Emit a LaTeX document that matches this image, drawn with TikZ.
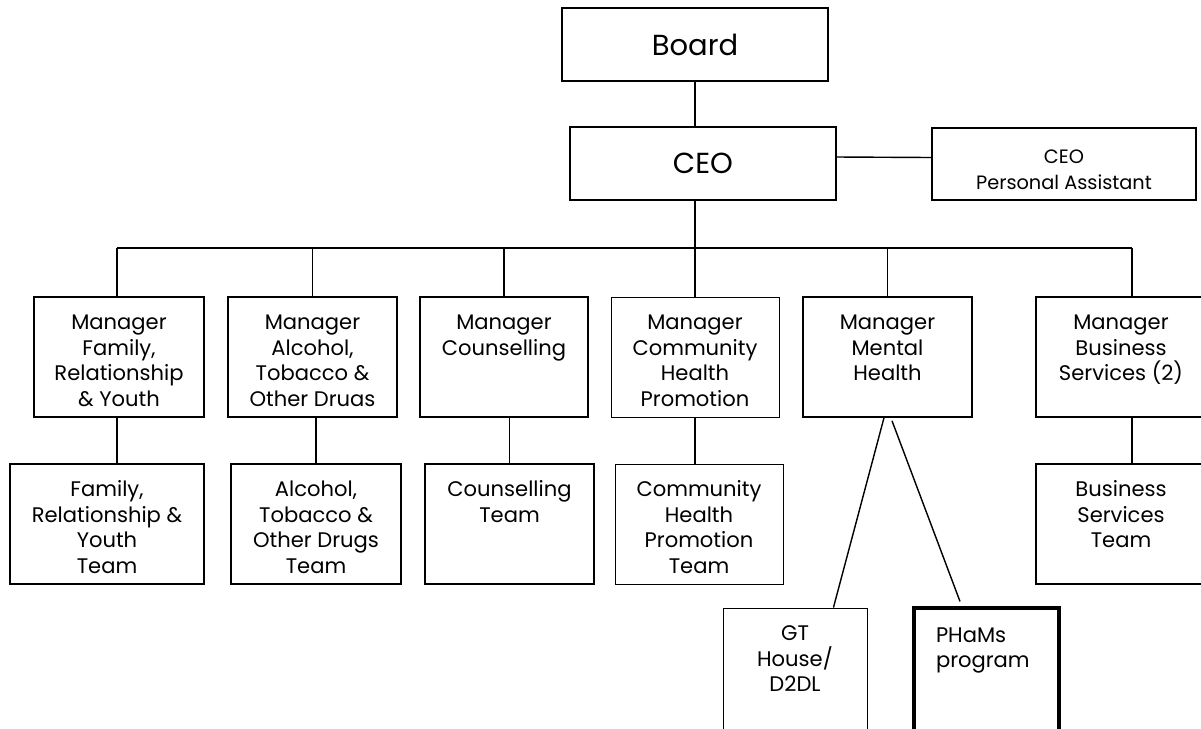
\documentclass[tikz,border=0pt]{standalone}
\usepackage{fontspec}
\setmainfont{Poppins}
\newcommand{\toptext}[3]{\parbox[c][#2][t]{#1}{\centering\rule{0pt}{0.65cm}#3}}
\tikzset{
  unit/.style={draw, line width=0.9pt, inner sep=0pt, font=\fontsize{12}{14.6}\selectfont},
  thinunit/.style={unit, line width=0.5pt},
  phamsunit/.style={unit, line width=1.8pt},
  headunit/.style={draw, line width=1.2pt, inner sep=0pt, minimum width=5.32cm, minimum height=1.46cm, font=\fontsize{16.5}{19}\selectfont},
  pausunit/.style={draw, line width=0.9pt, inner sep=0pt, minimum width=5.28cm, minimum height=1.44cm, align=center, font=\fontsize{11}{14.7}\selectfont},
  link/.style={line width=0.8pt}
}
\begin{document}
\begin{tikzpicture}[x=0.02cm, y=-0.02cm]
  \path[use as bounding box] (0,0) rectangle (1201,728);
  \clip (0,0) rectangle (1201,728);
  % top
  \node[headunit] (board) at (695,44.5) {Board};
  \node[headunit] (ceo) at (703,163.5) {CEO};
  \node[pausunit] (pa) at (1064,164) {\rule{0pt}{0.5cm}CEO\\Personal Assistant};
  % managers
  \node[unit] (m1) at (119,357) {\toptext{3.4cm}{2.4cm}{Manager\\Family,\\Relationship\\\& Youth}};
  \node[unit] (m2) at (312.5,357) {\toptext{3.38cm}{2.4cm}{Manager\\Alcohol,\\Tobacco \&\\Other Druas}};
  \node[unit] (m3) at (504,357) {\toptext{3.36cm}{2.4cm}{Manager\\Counselling}};
  \node[thinunit] (m4) at (695,357) {\toptext{3.36cm}{2.4cm}{Manager\\Community\\Health\\Promotion}};
  \node[unit] (m5) at (887.5,357) {\toptext{3.38cm}{2.4cm}{Manager\\Mental\\Health}};
  \node[unit] (m6) at (1121,357) {\toptext{3.4cm}{2.4cm}{Manager\\Business\\Services (2)}};
  % teams
  \node[unit] (t1) at (107,524) {\toptext{3.88cm}{2.4cm}{Family,\\Relationship \&\\Youth\\Team}};
  \node[unit] (t2) at (316,524) {\toptext{3.4cm}{2.4cm}{Alcohol,\\Tobacco \&\\Other Drugs\\Team}};
  \node[unit] (t3) at (509.5,524) {\toptext{3.38cm}{2.4cm}{Counselling\\Team}};
  \node[thinunit] (t4) at (699,524) {\toptext{3.36cm}{2.4cm}{Community\\Health\\Promotion\\Team}};
  \node[unit] (t6) at (1121,524) {\toptext{3.4cm}{2.4cm}{Business\\Services\\Team}};
  \node[thinunit] (gt) at (795,678) {\toptext{2.88cm}{2.8cm}{GT\\House/\\D2DL}};
  \node[phamsunit] (ph) at (986.5,678) {\parbox[c][2.8cm][t]{2.9cm}{\raggedright\leftskip=0.44cm\rule{0pt}{0.68cm}PHaMs\\program}};
  % connectors
  \coordinate (busL) at (117,248);
  \coordinate (busR) at (1132,248);
  \draw[link] (board.south -| m4.north) -- (ceo.north -| m4.north);
  \draw[link] ([yshift=0.13cm]ceo.east) -- ([yshift=0.13cm]pa.west);
  \draw[link] (ceo.south -| m4.north) -- (m4.north);
  \draw[link] (busL) -- (busR);
  \draw[link] (busL) -- (busL |- m1.north);
  \draw[link] (m2.north |- busL) -- (m2.north);
  \draw[link] (m3.north |- busL) -- (m3.north);
  \draw[link] (m5.north |- busL) -- (m5.north);
  \draw[link] (busR) -- (busR |- m6.north);
  \draw[link] (busL |- m1.south) -- (busL |- t1.north);
  \draw[link] (t2.north |- m2.south) -- (t2.north);
  \draw[link] (t3.north |- m3.south) -- (t3.north);
  \draw[link] (m4.south) -- (m4.south |- t4.north);
  \draw[link] (busR |- m6.south) -- (busR |- t6.north);
  \draw[link] ([xshift=-0.07cm]m5.south) -- ([xshift=-0.68cm]gt.north east);
  \draw[link] ([xshift=0.09cm,yshift=-0.06cm]m5.south) -- ([xshift=-0.53cm,yshift=0.1cm]ph.north);
\end{tikzpicture}
\end{document}
